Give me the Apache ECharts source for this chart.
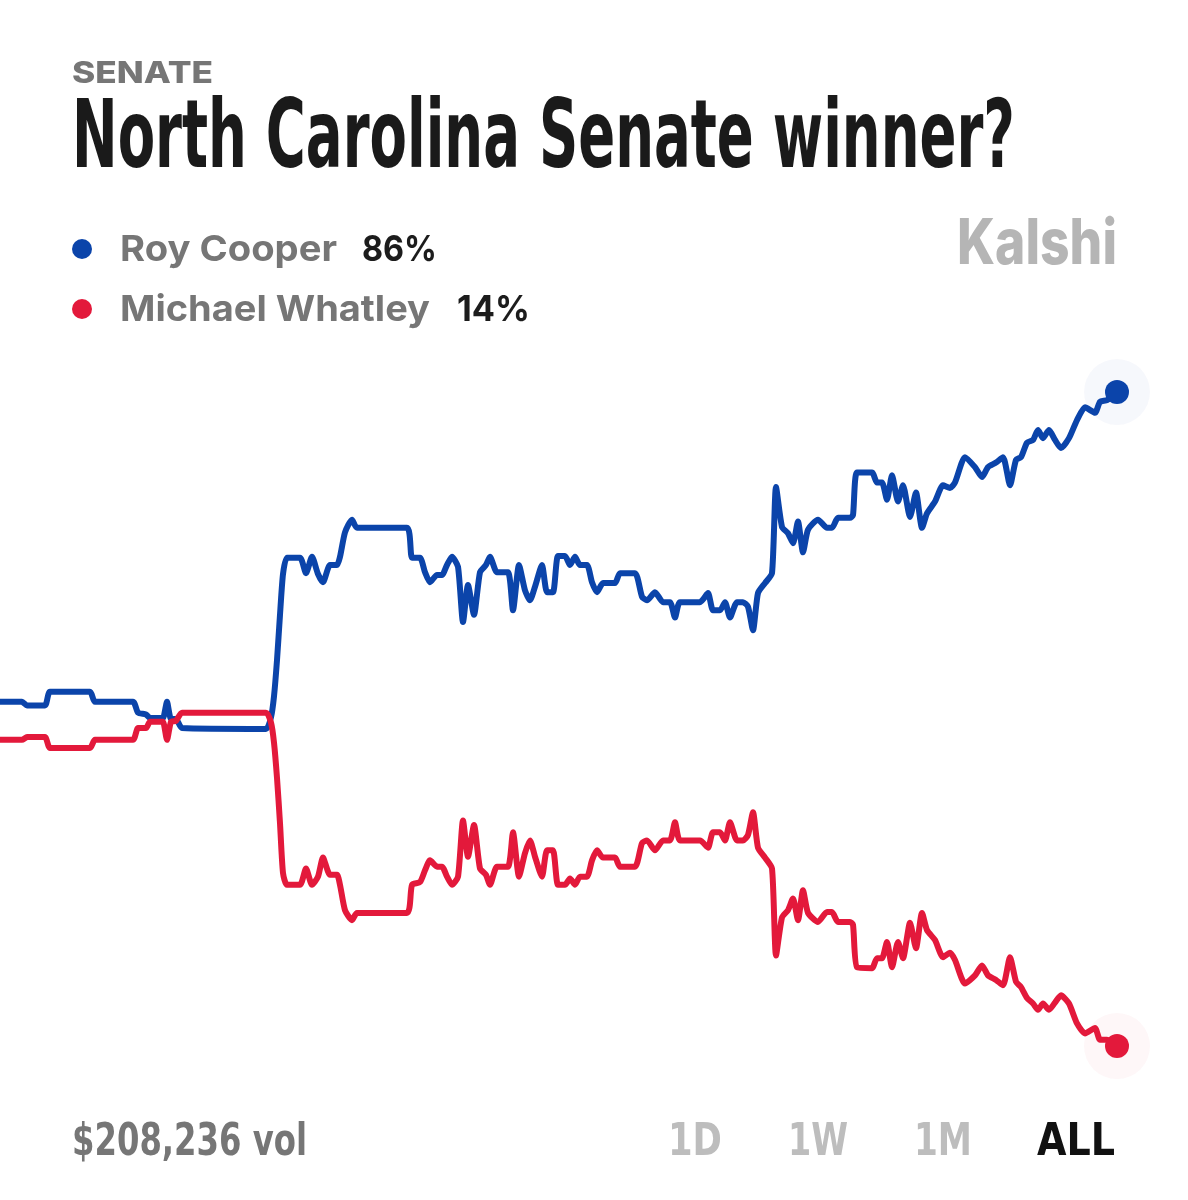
<!DOCTYPE html>
<html>
<head>
<meta charset="utf-8">
<script src="https://cdn.jsdelivr.net/npm/echarts@6/dist/echarts.min.js"></script>
<style>
  html, body { margin: 0; background: #fff; }
  #chart { width: 1188px; height: 1200px; }
</style>
</head>
<body>
<div id="chart"></div>
<script>
// time axis (days since market open) shared by both candidates
const days = [
  0, 5.5, 6.75, 11.25, 12.5, 22.5, 23.75, 33.25, 34.5, 36.5,
  37.5, 40, 40.75, 41.75, 42.75, 44, 45.5, 66.5, 67.75, 68.5,
  69.25, 70, 70.75, 71.75, 75, 76.5, 78, 79.5, 80.75, 82.5,
  84.25, 85, 86.25, 88, 89.25, 101.75, 103, 105, 106.25, 107.5,
  109.25, 110.5, 111.75, 113, 114.5, 115.75, 117, 118.5, 120, 121.5,
  122.5, 124.25, 127, 128.25, 129.75, 131.25, 132.5, 133.75, 135.5, 136.75,
  138.25, 139.5, 141.25, 142.5, 143.75, 145, 146.75, 148, 149.25, 150.75,
  153.75, 155, 158.75, 160.5, 161.75, 163.75, 165.75, 167.5, 168.75, 170,
  175, 177, 178.25, 180, 181.25, 182.5, 184.25, 185.75, 187, 188.25,
  189.5, 191.25, 193, 194, 195.5, 197, 198.25, 199.5, 200.75, 202,
  204.5, 206.75, 208, 209.5, 212.5, 213.25, 214.25, 218, 219.25, 220.5,
  221.75, 223, 224.5, 225.75, 227.5, 229, 230.5, 231.75, 233.75, 235.75,
  237.5, 238.75, 241.25, 243.75, 245.5, 247, 249, 250.75, 252.5, 254,
  255.25, 256.75, 258.25, 259.5, 260.75, 262.25, 263.75, 265.25, 267.25, 269.25,
  271.25, 273.75, 275, 276.75, 279.25
];
// Roy Cooper, chance in %
const cooper = [
  51.9, 51.9, 51.5, 51.5, 53.0, 53.0, 51.9, 51.9, 50.7, 50.5,
  50.1, 50.1, 50.1, 51.9, 50.0, 50.0, 49.0, 48.9, 50.2, 52.5,
  56.5, 61.5, 66.0, 67.8, 67.8, 66.1, 67.9, 66.0, 65.1, 67.0,
  67.0, 67.9, 70.6, 72.0, 71.1, 71.1, 67.8, 67.8, 66.2, 65.1,
  65.9, 65.9, 67.0, 67.9, 66.8, 60.7, 64.8, 61.5, 66.2, 67.0,
  67.9, 66.2, 66.2, 62.0, 67.0, 64.2, 63.1, 64.6, 67.0, 64.0,
  64.0, 68.0, 68.0, 67.0, 67.9, 67.0, 67.0, 65.1, 64.0, 65.0,
  65.0, 66.1, 66.1, 63.5, 63.1, 64.0, 62.9, 62.9, 61.2, 62.9,
  62.9, 63.9, 62.0, 62.0, 62.9, 61.2, 62.9, 62.9, 62.4, 59.8,
  63.9, 65.0, 66.1, 75.6, 71.2, 70.5, 69.4, 71.8, 68.4, 70.9,
  72.0, 71.1, 71.1, 72.2, 72.2, 72.5, 77.2, 77.2, 76.1, 76.1,
  74.2, 76.9, 74.0, 75.8, 72.3, 75.0, 71.1, 72.7, 74.0, 75.8,
  75.5, 76.1, 78.9, 77.8, 76.7, 77.8, 78.3, 78.9, 75.8, 78.6,
  78.9, 80.5, 80.8, 81.9, 81.0, 81.9, 80.8, 79.9, 81.0, 83.0,
  84.4, 83.8, 85.0, 85.2, 86.1
];
// Michael Whatley, chance in %
const whatley = [
  47.7, 47.7, 48.0, 48.0, 46.8, 46.8, 47.7, 47.7, 49.0, 49.0,
  49.7, 49.7, 49.7, 47.7, 49.7, 49.8, 50.7, 50.7, 49.6, 47.4,
  43.5, 38.5, 33.0, 31.7, 31.7, 33.5, 31.7, 32.6, 34.7, 32.8,
  32.8, 31.7, 28.9, 27.8, 28.6, 28.6, 31.7, 32.0, 33.3, 34.4,
  33.7, 33.7, 32.6, 31.7, 32.6, 38.8, 34.8, 38.3, 33.5, 32.8,
  31.7, 33.7, 33.7, 37.5, 32.6, 35.2, 36.6, 34.8, 32.6, 35.5,
  35.5, 31.7, 31.7, 32.4, 31.7, 32.6, 32.6, 34.4, 35.5, 34.7,
  34.7, 33.7, 33.7, 36.3, 36.6, 35.5, 36.6, 36.6, 38.6, 36.6,
  36.6, 35.8, 37.5, 37.5, 36.6, 38.6, 36.6, 36.6, 37.2, 39.7,
  35.8, 34.7, 33.5, 23.9, 28.1, 28.9, 30.2, 27.8, 31.1, 28.6,
  27.6, 28.7, 28.7, 27.6, 27.6, 27.3, 22.6, 22.5, 23.6, 23.6,
  25.4, 22.6, 25.4, 23.6, 27.5, 24.7, 28.6, 26.7, 25.6, 23.7,
  24.2, 23.4, 20.8, 21.7, 22.8, 21.7, 21.2, 20.6, 23.7, 21.0,
  20.4, 19.2, 18.6, 17.9, 18.6, 17.9, 18.7, 19.5, 18.6, 16.4,
  15.3, 15.9, 14.6, 14.6, 13.9
];
const candidates = ['Roy Cooper', 'Michael Whatley'];
const volumeLabel = '$208,236 vol';
const ranges = ['1D', '1W', '1M', 'ALL'];

const BLUE = '#0B44AA';
const RED = '#E3193B';
const GREY = '#767676';

const chart = echarts.init(document.getElementById('chart'));

// measure text so condensed headlines can be squeezed to the right width
const measureCtx = document.createElement('canvas').getContext('2d');
function fitText (text, x, y, width, font, color) {
  measureCtx.font = font;
  const w = measureCtx.measureText(text).width;
  return {
    type: 'text', x: x, y: y, scaleX: width / w, silent: true,
    style: { text: text, font: font, fill: color, align: 'left', verticalAlign: 'middle' }
  };
}

const last = days.length - 1;
const cooperNow = Math.round(cooper[last]);
const whatleyNow = Math.round(whatley[last]);

const condensed = "'Liberation Sans Narrow', 'DejaVu Sans Condensed', sans-serif";
const grotesk = "Inter, Roboto, sans-serif";

const graphics = [
  fitText('SENATE', 72, 74, 141, '800 30px ' + grotesk, GREY),
  fitText('North Carolina Senate winner?', 72, 142, 943, 'bold 95px ' + condensed, '#1a1a1a'),
  { type: 'circle', shape: { cx: 82, cy: 249, r: 10 }, style: { fill: BLUE }, silent: true },
  fitText(candidates[0], 120, 250, 217, '700 36px ' + grotesk, GREY),
  fitText(cooperNow + '%', 362, 250, 75, '700 36px ' + grotesk, '#1c1c1c'),
  { type: 'circle', shape: { cx: 82, cy: 309, r: 10 }, style: { fill: RED }, silent: true },
  fitText(candidates[1], 120, 310, 310, '700 36px ' + grotesk, GREY),
  fitText(whatleyNow + '%', 457, 310, 73, '700 36px ' + grotesk, '#1c1c1c'),
  fitText('Kalshi', 957, 245, 160, '800 63px ' + grotesk, '#b5b5b5'),
  fitText(volumeLabel, 72, 1144, 235, 'bold 44px ' + condensed, GREY)
];
// range buttons at the bottom right
const rangeX = [668, 788, 914, 1037];
const rangeW = [54, 60, 58, 78];
ranges.forEach((r, i) => {
  graphics.push(fitText(r, rangeX[i], 1144, rangeW[i], 'bold 44px ' + condensed,
    r === 'ALL' ? '#111' : '#bdbdbd'));
});

function endPoint (values, color, halo) {
  return [
    {
      type: 'scatter', silent: true, symbolSize: 66, z: 1,
      itemStyle: { color: halo, opacity: 1 },
      data: [[days[last], values[last]]]
    },
    {
      type: 'scatter', silent: true, symbolSize: 24, z: 4,
      itemStyle: { color: color, opacity: 1 },
      data: [[days[last], values[last]]]
    }
  ];
}

const option = {
  animation: false,
  backgroundColor: '#fff',
  grid: { left: 0, right: 68, top: 266, bottom: 28 },
  xAxis: { type: 'value', min: 0, max: 280, show: false },
  yAxis: { type: 'value', min: 0, max: 100, show: false },
  graphic: graphics,
  series: [
    {
      name: candidates[0], type: 'line', showSymbol: false, z: 2, smooth: 0.2,
      lineStyle: { color: BLUE, width: 6, join: 'round', cap: 'round' },
      data: days.map((d, i) => [d, cooper[i]])
    },
    {
      name: candidates[1], type: 'line', showSymbol: false, z: 3, smooth: 0.2,
      lineStyle: { color: RED, width: 6, join: 'round', cap: 'round' },
      data: days.map((d, i) => [d, whatley[i]])
    },
    ...endPoint(cooper, BLUE, 'rgba(11,68,170,0.035)'),
    ...endPoint(whatley, RED, 'rgba(227,25,59,0.035)')
  ]
};
chart.setOption(option);
</script>
</body>
</html>
